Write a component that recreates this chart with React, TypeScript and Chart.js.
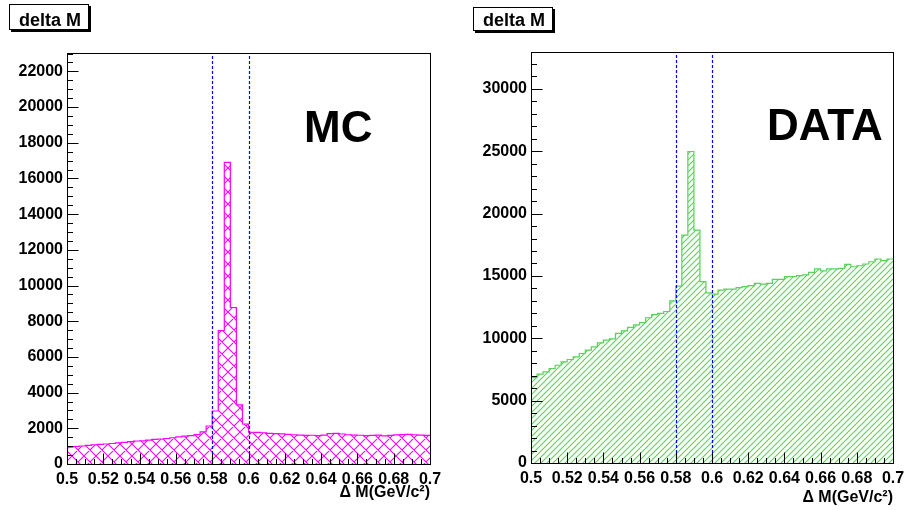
import React, { useEffect, useRef } from 'react';
import { Chart, registerables } from 'chart.js';

Chart.register(...registerables);

// ---------- data ----------
const X_MIN = 0.5;
const X_MAX = 0.7;
const BIN_COUNT = 60;

const xTickValues = [0.5, 0.52, 0.54, 0.56, 0.58, 0.6, 0.62, 0.64, 0.66, 0.68, 0.7];
const xTickLabels = ['0.5', '0.52', '0.54', '0.56', '0.58', '0.6', '0.62', '0.64', '0.66', '0.68', '0.7'];
const mcYTickValues = [0, 2000, 4000, 6000, 8000, 10000, 12000, 14000, 16000, 18000, 20000, 22000];
const dataYTickValues = [0, 5000, 10000, 15000, 20000, 25000, 30000];
const cutValues = [0.58, 0.6];

const mcCounts = [
  950, 980, 1010, 1040, 1080, 1100, 1120, 1150, 1180, 1210,
  1250, 1290, 1300, 1340, 1380, 1400, 1430, 1470, 1520, 1560,
  1590, 1650, 1800, 2130, 2970, 7480, 16900, 8770, 3310, 2240,
  1780, 1770, 1750, 1720, 1700, 1690, 1660, 1640, 1620, 1600,
  1610, 1590, 1620, 1700, 1720, 1680, 1640, 1620, 1610, 1590,
  1600, 1620, 1580, 1600, 1630, 1650, 1660, 1640, 1620, 1600,
];

const dataCounts = [
  6850, 7120, 7310, 7580, 7840, 8110, 8300, 8510, 8780, 9050,
  9320, 9640, 9850, 9960, 10390, 10600, 10870, 11080, 11250, 11650,
  11900, 12000, 12150, 13000, 14190, 18280, 24980, 18680, 14540, 13650,
  13550, 13870, 13950, 13950, 14060, 14140, 14220, 14410, 14350, 14410,
  14730, 14730, 14940, 14940, 15020, 15080, 15290, 15560, 15400, 15560,
  15560, 15610, 15930, 15740, 15820, 15960, 16140, 16360, 16230, 16360,
];

const FONT = "'Liberation Sans', Arial, Helvetica, sans-serif";
const MC_COLOR = '#ff00ff';
const DATA_COLOR = '#5ccf5c';
const CUT_COLOR = '#0000ff';

function stepPoints(counts: number[]) {
  const w = (X_MAX - X_MIN) / BIN_COUNT;
  const pts: { x: number; y: number }[] = [];
  for (let i = 0; i <= BIN_COUNT; i++) {
    pts.push({ x: X_MIN + i * w, y: counts[Math.min(i, BIN_COUNT - 1)] });
  }
  return pts;
}

function hatch(color: string, size: number, slash: boolean, back: boolean) {
  const c = document.createElement('canvas');
  c.width = size;
  c.height = size;
  const g = c.getContext('2d')!;
  g.strokeStyle = color;
  g.lineWidth = 1.1;
  g.beginPath();
  for (const o of [-size, 0, size]) {
    if (slash) {
      // y = size - x + o
      g.moveTo(-1, size + 1 + o);
      g.lineTo(size + 1, -1 + o);
    }
    if (back) {
      // y = x + o
      g.moveTo(-1, -1 + o);
      g.lineTo(size + 1, size + 1 + o);
    }
  }
  g.stroke();
  return g.createPattern(c, 'repeat')!;
}

const rootFrame = {
  id: 'rootFrame',
  afterDatasetsDraw(chart: any, _a: any, opts: any) {
    if (!opts || !opts.cuts) return;
    const { ctx, chartArea: a, scales } = chart;
    ctx.save();
    ctx.strokeStyle = CUT_COLOR;
    ctx.lineWidth = 1.2;
    ctx.setLineDash([3, 2]);
    for (const v of opts.cuts) {
      const px = Math.round(scales.x.getPixelForValue(v)) + 0.5;
      ctx.beginPath();
      ctx.moveTo(px, a.bottom);
      ctx.lineTo(px, a.top);
      ctx.stroke();
    }
    ctx.restore();
  },
  afterDraw(chart: any, _a: any, opts: any) {
    if (!opts || !opts.cuts) return;
    const { ctx, chartArea: a, scales } = chart;
    const L = Math.round(a.left) + 0.5;
    const T = Math.round(a.top) + 0.5;
    const R = Math.round(a.right) + 0.5;
    const B = Math.round(a.bottom) + 0.5;
    ctx.save();
    ctx.strokeStyle = '#000';
    ctx.lineWidth = 1;
    ctx.setLineDash([]);
    ctx.strokeRect(L, T, R - L, B - T);
    ctx.beginPath();
    for (let k = 0; k <= 40; k++) {
      const px = Math.round(scales.x.getPixelForValue(X_MIN + k * 0.005)) + 0.5;
      const len = k % 4 === 0 ? 11 : 5.5;
      ctx.moveTo(px, B);
      ctx.lineTo(px, B - len);
    }
    for (let v = 0; v <= scales.y.max; v += opts.yMinor) {
      const py = Math.round(scales.y.getPixelForValue(v)) + 0.5;
      const len = v % opts.yMajor === 0 ? 11 : 5.5;
      ctx.moveTo(L, py);
      ctx.lineTo(L + len, py);
    }
    ctx.stroke();
    const b = opts.box;
    ctx.fillStyle = '#000';
    ctx.fillRect(b.x + 2, b.y + 2, b.w, b.h);
    ctx.fillStyle = '#fff';
    ctx.fillRect(b.x, b.y, b.w, b.h);
    ctx.strokeRect(b.x + 0.5, b.y + 0.5, b.w - 1, b.h - 1);
    ctx.fillStyle = '#000';
    ctx.font = `bold 18px ${FONT}`;
    ctx.textAlign = 'left';
    ctx.textBaseline = 'alphabetic';
    ctx.fillText(b.text, b.tx, b.ty);
    const g = opts.label;
    ctx.font = `bold ${g.size}px ${FONT}`;
    ctx.fillText(g.text, g.x, g.y);
    ctx.restore();
  },
};
Chart.register(rootFrame);

function makeConfig(p: any) {
  const tickFont = { family: FONT, weight: 'bold' as const, size: 16 };
  return {
    type: 'line' as const,
    data: {
      datasets: [
        {
          data: stepPoints(p.counts),
          stepped: true,
          borderColor: p.color,
          borderWidth: 1.2,
          backgroundColor: p.pattern,
          fill: 'origin',
          pointRadius: 0,
          tension: 0,
        },
      ],
    },
    options: {
      responsive: false,
      animation: false as const,
      layout: { padding: { top: p.padTop, right: p.padRight, left: 0, bottom: 0 } },
      plugins: {
        legend: { display: false },
        tooltip: { enabled: false },
        rootFrame: { cuts: cutValues, yMajor: p.yMajor, yMinor: p.yMinor, box: p.box, label: p.label },
      },
      scales: {
        x: {
          type: 'linear' as const,
          min: X_MIN,
          max: X_MAX,
          grid: { display: false, drawTicks: false },
          border: { display: false },
          afterBuildTicks: (s: any) => {
            s.ticks = xTickValues.map((v) => ({ value: v }));
          },
          afterFit: (s: any) => {
            s.height = p.xHeight;
            s.paddingLeft = 0;
            s.paddingRight = 0;
          },
          ticks: {
            autoSkip: false,
            maxRotation: 0,
            minRotation: 0,
            padding: 6,
            color: '#000',
            font: tickFont,
            callback: (_v: any, i: number) => xTickLabels[i],
          },
          title: {
            display: true,
            text: 'Δ M(GeV/c²)',
            align: 'end' as const,
            color: '#000',
            font: tickFont,
            padding: { top: 0, bottom: p.titlePadBottom },
          },
        },
        y: {
          type: 'linear' as const,
          min: 0,
          max: p.yMax,
          grid: { display: false, drawTicks: false },
          border: { display: false },
          afterBuildTicks: (s: any) => {
            s.ticks = p.yTicks.map((v: number) => ({ value: v }));
          },
          afterFit: (s: any) => {
            s.width = p.yWidth;
            s.paddingTop = 0;
            s.paddingBottom = 0;
          },
          ticks: {
            autoSkip: false,
            padding: 4,
            color: '#000',
            font: tickFont,
            callback: (v: any) => String(v),
          },
        },
      },
    },
  };
}

export default function App() {
  const leftRef = useRef<HTMLCanvasElement>(null);
  const rightRef = useRef<HTMLCanvasElement>(null);

  useEffect(() => {
    const left = new Chart(
      leftRef.current!,
      makeConfig({
        counts: mcCounts,
        color: MC_COLOR,
        pattern: hatch(MC_COLOR, 12, true, true),
        yTicks: mcYTickValues,
        yMax: 23030,
        yWidth: 67,
        xHeight: 46,
        padTop: 53,
        padRight: 22,
        titlePadBottom: 8,
        yMajor: 2000,
        yMinor: 500,
        box: { x: 9, y: 4, w: 80, h: 26, text: 'delta M', tx: 19, ty: 26 },
        label: { text: 'MC', x: 304, y: 142, size: 44 },
      }) as any
    );
    const right = new Chart(
      rightRef.current!,
      makeConfig({
        counts: dataCounts,
        color: DATA_COLOR,
        pattern: hatch(DATA_COLOR, 6, true, false),
        yTicks: dataYTickValues,
        yMax: 32960,
        yWidth: 79,
        xHeight: 47,
        padTop: 52,
        padRight: 11,
        titlePadBottom: 3,
        yMajor: 5000,
        yMinor: 1000,
        box: { x: 21, y: 7, w: 80, h: 24, text: 'delta M', tx: 31, ty: 26 },
        label: { text: 'DATA', x: 315, y: 140, size: 44 },
      }) as any
    );
    return () => {
      left.destroy();
      right.destroy();
    };
  }, []);

  return (
    <div
      style={{
        position: 'fixed',
        left: 0,
        top: 0,
        width: 904,
        height: 510,
        overflow: 'hidden',
        background: '#fff',
      }}
    >
      <canvas ref={leftRef} width={452} height={510} style={{ position: 'absolute', left: 0, top: 0 }} />
      <canvas ref={rightRef} width={452} height={510} style={{ position: 'absolute', left: 452, top: 0 }} />
    </div>
  );
}
